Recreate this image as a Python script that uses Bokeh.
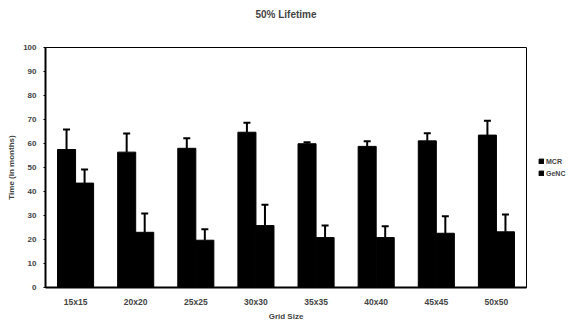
from bokeh.plotting import figure
from bokeh.models import ColumnDataSource, Whisker, TeeHead, Legend, LegendItem, FactorRange, Title
from bokeh.transform import dodge
from bokeh.embed import file_html
from bokeh.resources import INLINE

categories = ["15x15", "20x20", "25x25", "30x30", "35x35", "40x40", "45x45", "50x50"]
mcr = [57.5, 56.4, 58.0, 64.7, 59.9, 58.8, 61.1, 63.5]
mcr_err = [8.3, 7.8, 4.2, 3.9, 0.6, 2.1, 3.2, 6.0]
genc = [43.5, 23.0, 19.7, 25.8, 20.8, 20.8, 22.6, 23.2]
genc_err = [5.7, 7.8, 4.6, 8.7, 5.0, 4.7, 7.1, 7.2]
y_ticks = [0, 10, 20, 30, 40, 50, 60, 70, 80, 90, 100]
title_text = "50% Lifetime"

FONT = "Liberation Sans"

src = ColumnDataSource(dict(
    cat=categories,
    mcr=mcr,
    mcr_top=[v + e for v, e in zip(mcr, mcr_err)],
    genc=genc,
    genc_top=[v + e for v, e in zip(genc, genc_err)],
))

p = figure(frame_width=481, frame_height=240, x_range=FactorRange(*categories), y_range=(0, 100),
           output_backend="svg", toolbar_location=None, title=None,
           min_border_left=45, min_border_top=47, min_border_bottom=34, min_border_right=42)

# spacer (closest to the frame), then the real title above it
spacer = Title(text=" ", text_font=FONT, text_font_size="10px", standoff=13)
p.add_layout(spacer, "above")
main_title = Title(text=title_text, align="center", text_font=FONT, text_font_size="10px",
                   text_font_style="bold", standoff=4)
p.add_layout(main_title, "above")

W = 0.3
r1 = p.vbar(x=dodge("cat", -0.15, range=p.x_range), top="mcr", width=W, source=src,
            fill_color="black", line_color="black")
r2 = p.vbar(x=dodge("cat", 0.15, range=p.x_range), top="genc", width=W, source=src,
            fill_color="black", line_color="black")

for off, lo, hi in [(-0.15, "mcr", "mcr_top"), (0.15, "genc", "genc_top")]:
    w = Whisker(base=dodge("cat", off, range=p.x_range), lower=lo, upper=hi, source=src,
                dimension="height", line_color="black", line_width=2,
                upper_head=TeeHead(size=7, line_color="black", line_width=2),
                lower_head=None)
    p.add_layout(w)

p.grid.visible = False
p.outline_line_color = "black"
p.outline_line_width = 1

p.yaxis.ticker = y_ticks
p.yaxis.axis_label = "Time (in months)"
p.xaxis.axis_label = "Grid Size"
for ax in (p.xaxis, p.yaxis):
    ax.axis_label_text_font = FONT
    ax.axis_label_text_font_size = "8px"
    ax.axis_label_text_font_style = "bold"
    ax.major_label_text_font = FONT
    ax.major_label_text_font_style = "bold"
    ax.axis_line_color = "black"
    ax.axis_line_width = 2
    ax.major_tick_line_color = "black"
p.yaxis.major_label_text_font_size = "8px"
p.xaxis.major_label_text_font_size = "8.5px"
p.yaxis.major_tick_out = 2
p.yaxis.major_tick_in = 0
p.yaxis.minor_tick_line_color = None
p.yaxis.major_label_standoff = 7
p.yaxis.axis_label_standoff = 4
p.xaxis.major_tick_out = 0
p.xaxis.major_tick_in = 0
p.xaxis.major_label_standoff = 9
p.xaxis.axis_label_standoff = 2

legend = Legend(items=[LegendItem(label="MCR", renderers=[r1]),
                       LegendItem(label="GeNC", renderers=[r2])],
                location="center_left")
legend.label_text_font = FONT
legend.label_text_font_size = "7px"
legend.label_text_font_style = "bold"
legend.glyph_width = 6
legend.glyph_height = 6
legend.label_standoff = 2
legend.spacing = 2
legend.padding = 0
legend.margin = 12
legend.label_height = 10
legend.border_line_color = None
legend.background_fill_alpha = 0
p.add_layout(legend, "right")

open("out.html", "w").write(file_html(p, INLINE))
